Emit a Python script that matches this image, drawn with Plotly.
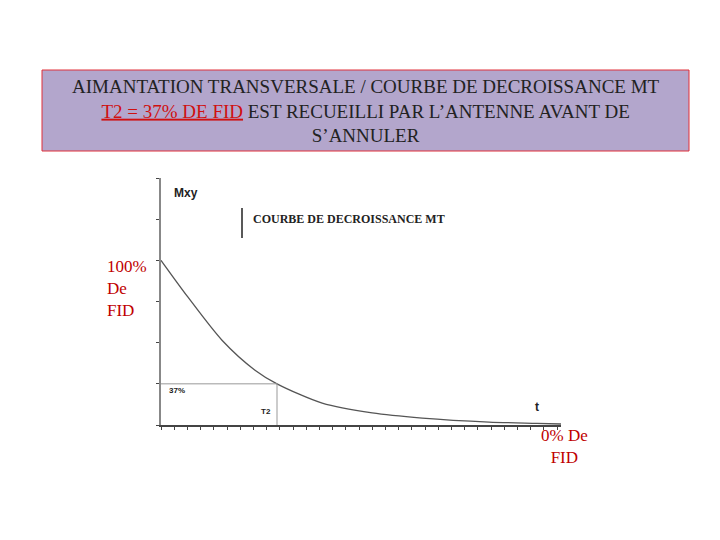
import plotly.graph_objects as go

t_vals = [0, 0.675, 1.525, 2.35, 2.9, 4.03, 5.28, 6.53, 8.2, 9.4, 10]
mxy_vals = [1.0, 0.776, 0.515, 0.333, 0.25, 0.133, 0.073, 0.042, 0.018, 0.01, 0.006]
t2 = 2.9
mxy_t2 = 0.25

W, H = 720, 540
OFF = 8
def px(x): return (x - OFF) / W
def py(y): return 1 - (y - OFF) / H

SERIF = "Times New Roman, Liberation Serif, serif"

fig = go.Figure()
fig.add_trace(go.Scatter(x=t_vals, y=mxy_vals, mode="lines", line=dict(color="#555", width=1.3, shape="spline", smoothing=0.8), hoverinfo="skip"))
fig.add_trace(go.Scatter(x=[0, t2, t2], y=[mxy_t2, mxy_t2, 0], mode="lines", line=dict(color="#999", width=1), hoverinfo="skip"))

fig.update_layout(
    width=W, height=H, margin=dict(l=0, r=0, t=0, b=0),
    paper_bgcolor="white", plot_bgcolor="white", showlegend=False,
    xaxis=dict(domain=[px(161), px(561)], range=[0, 10], showgrid=False, zeroline=False,
               showline=True, linecolor="#444", linewidth=2, ticks="outside", ticklen=3,
               tickcolor="#444", dtick=0.33, showticklabels=False),
    yaxis=dict(domain=[py(425), py(178)], range=[0, 1.5], showgrid=False, zeroline=False,
               showline=True, linecolor="#888", linewidth=1.5, ticks="outside", ticklen=3,
               tickcolor="#444", dtick=0.25, showticklabels=False),
)

fig.add_shape(type="rect", xref="paper", yref="paper", x0=px(42), x1=px(689), y0=py(151), y1=py(70),
              fillcolor="#b3a6cc", line=dict(color="#e0303a", width=1))
fig.add_annotation(xref="paper", yref="paper", x=px(366), y=py(74), yanchor="top", showarrow=False,
                   text="AIMANTATION TRANSVERSALE / COURBE DE DECROISSANCE MT<br><span style='color:#d01010'><u>T2 = 37% DE FID</u></span> EST RECUEILLI PAR L’ANTENNE AVANT DE<br>S’ANNULER",
                   font=dict(family=SERIF, size=19, color="#222"), align="center")

fig.add_annotation(xref="paper", yref="paper", x=px(172), y=py(193), showarrow=False, xanchor="left",
                   text="<b>Mxy</b>", font=dict(family="Liberation Sans", size=12, color="#222"))
fig.add_shape(type="line", xref="paper", yref="paper", x0=px(242), x1=px(242), y0=py(208), y1=py(238),
              line=dict(color="#222", width=1.5))
fig.add_annotation(xref="paper", yref="paper", x=px(251), y=py(219), showarrow=False, xanchor="left",
                   text="<b>COURBE DE DECROISSANCE MT</b>", font=dict(family=SERIF, size=12, color="#222"))
fig.add_annotation(xref="paper", yref="paper", x=px(105), y=py(288), showarrow=False, xanchor="left",
                   text="100%<br>De<br>FID", align="left",
                   font=dict(family=SERIF, size=17, color="#c00000"))
fig.add_annotation(xref="paper", yref="paper", x=px(564), y=py(424), yanchor="top", showarrow=False, xanchor="center",
                   text="0% De<br>FID", align="center",
                   font=dict(family=SERIF, size=17, color="#c00000"))
fig.add_annotation(x=0.15, y=0.21, xanchor="left", showarrow=False, text="<b>37%</b>",
                   font=dict(family="Liberation Sans", size=8, color="#222"))
fig.add_annotation(x=t2 - 0.1, y=0.08, xanchor="right", showarrow=False, text="<b>T2</b>",
                   font=dict(family="Liberation Sans", size=8, color="#222"))
fig.add_annotation(x=9.4, y=0.11, showarrow=False, text="<b>t</b>",
                   font=dict(family="Liberation Sans", size=12, color="#222"))

fig.write_html("out.html")
